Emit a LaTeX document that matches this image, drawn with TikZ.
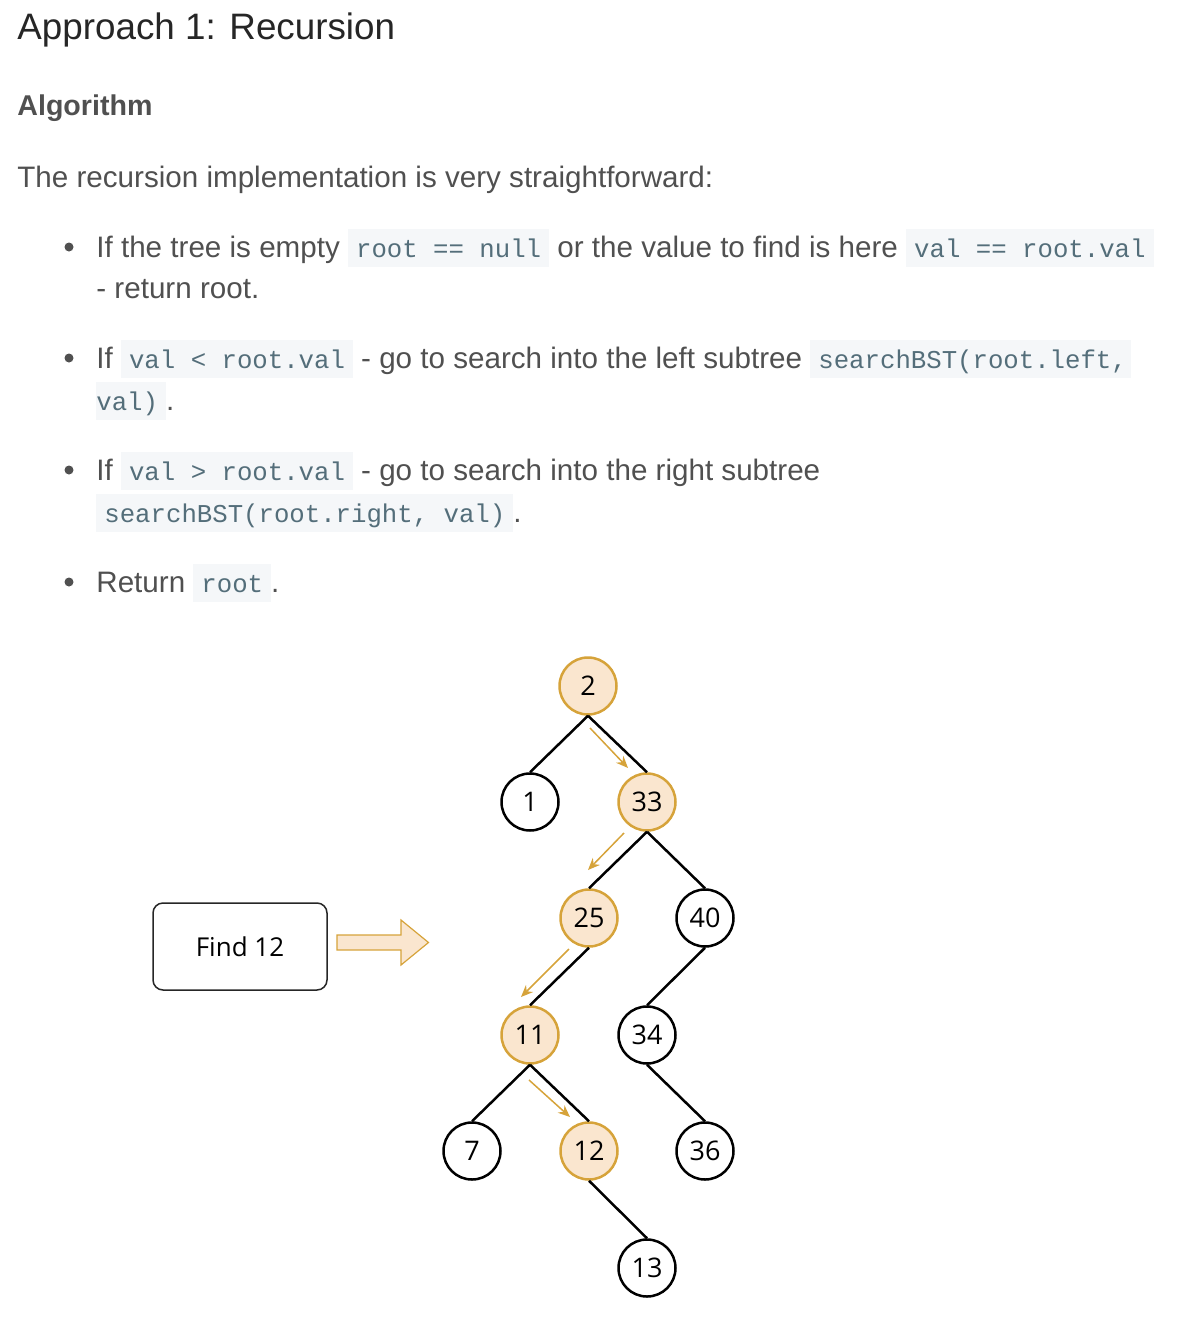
\documentclass[tikz,border=0pt]{standalone}
\usepackage{fontspec}
\setmainfont{Liberation Sans}
\setmonofont{Liberation Mono}
\newfontfamily\treefont{Open Sans}
\usetikzlibrary{arrows.meta}
\definecolor{headcol}{HTML}{262626}
\definecolor{bodycol}{HTML}{505050}
\definecolor{codefg}{HTML}{546E7A}
\definecolor{codebg}{HTML}{F5F7F9}
\definecolor{nodefill}{HTML}{FAE6CF}
\definecolor{nodeline}{HTML}{D6A33A}
\newcommand{\codepad}[3]{{\setlength{\fboxsep}{0pt}\colorbox{codebg}{\hspace{#1}\rule[-5pt]{0pt}{19pt}\textcolor{codefg}{\fontsize{12.85}{15}\ttfamily #3}\hspace{#2}}}}
\newcommand{\code}[1]{\codepad{4pt}{4pt}{#1}}
\begin{document}
\begin{tikzpicture}[x=0.5pt, y=-0.5pt,
  txt/.style={anchor=base west, inner sep=0pt, text=bodycol, font=\fontsize{14.8}{17}\selectfont},
  dot/.style={circle, fill=bodycol, inner sep=0pt, minimum size=4.5pt},
  key/.style={circle, draw, line width=1.25pt, minimum size=28.5pt, inner sep=0pt, font=\treefont\fontsize{13.5}{15}\selectfont},
  hit/.style={key, draw=nodeline, fill=nodefill},
  edge/.style={line width=1.25pt},
  trail/.style={nodeline, line width=0.75pt, -{Stealth[length=6pt, width=5pt]}}]
\useasboundingbox (0,0) rectangle (1188,1322);
% text
\node[txt, text=headcol, font=\fontsize{18.4}{22}\selectfont] (title) at (17,40) {Approach 1: Recursion};
\node[txt, font=\fontsize{14.3}{17}\bfseries] (algo) at (17,116) {Algorithm};
\node[txt] (intro) at (17,187) {The recursion implementation is very straightforward:};
\node[dot] (b1) at (69,247) {};
\node[txt] (l1) at (96,257) {If the tree is empty \code{root == null} or the value to find is here \code{val == root.val}};
\node[txt] (l1b) at (96,298) {- return root.};
\node[dot] (b2) at (69,358) {};
\node[txt] (l2) at (96,368) {If \code{val < root.val} - go to search into the left subtree \codepad{4pt}{2pt}{searchBST(root.left,}};
\node[txt] (l2b) at (96,410) {\codepad{0pt}{4pt}{val)}.};
\node[dot] (b3) at (69,470) {};
\node[txt] (l3) at (96,480) {If \code{val > root.val} - go to search into the right subtree};
\node[txt] (l3b) at (96,522) {\code{searchBST(root.right, val)}.};
\node[dot] (b4) at (69,582) {};
\node[txt] (l4) at (96,592) {Return \code{root}.};
% find box
\node[draw=headcol, line width=0.75pt, rounded corners=5pt, minimum width=87pt, minimum height=43.5pt, font=\treefont\fontsize{13}{15}\selectfont] (find) at (240,946.5) {Find 12};
\draw[fill=nodefill, draw=nodeline, line width=0.6pt] (337,935) -- (401,935) -- (401,920) -- (428.5,942.5) -- (401,965) -- (401,950) -- (337,950) -- cycle;
% tree
\node[hit] (n2) at (588,686) {2};
\node[key] (n1) at (530,802) {1};
\node[hit] (n33) at (647,802) {33};
\node[hit] (n25) at (589,918) {25};
\node[key] (n40) at (705,918) {40};
\node[hit] (n11) at (530,1035) {11};
\node[key] (n34) at (647,1035) {34};
\node[key] (n7) at (472,1151) {7};
\node[hit] (n12) at (589,1151) {12};
\node[key] (n36) at (705,1151) {36};
\node[key] (n13) at (647,1268) {13};
\draw[edge] (n2.south) -- (n1.north);
\draw[edge] (n2.south) -- (n33.north);
\draw[edge] (n33.south) -- (n25.north);
\draw[edge] (n33.south) -- (n40.north);
\draw[edge] (n25.south) -- (n11.north);
\draw[edge] (n40.south) -- (n34.north);
\draw[edge] (n11.south) -- (n7.north);
\draw[edge] (n11.south) -- (n12.north);
\draw[edge] (n34.south) -- (n36.north);
\draw[edge] (n12.south) -- (n13.north);
% search path
\coordinate (s1) at (590,728);
\coordinate (e1) at (628,768);
\coordinate (s2) at (624,833);
\coordinate (e2) at (588,870);
\coordinate (s3) at (569,949);
\coordinate (e3) at (521,997);
\coordinate (s4) at (529,1080);
\coordinate (e4) at (570,1117);
\draw[trail] (s1) -- (e1);
\draw[trail] (s2) -- (e2);
\draw[trail] (s3) -- (e3);
\draw[trail] (s4) -- (e4);
\end{tikzpicture}
\end{document}
